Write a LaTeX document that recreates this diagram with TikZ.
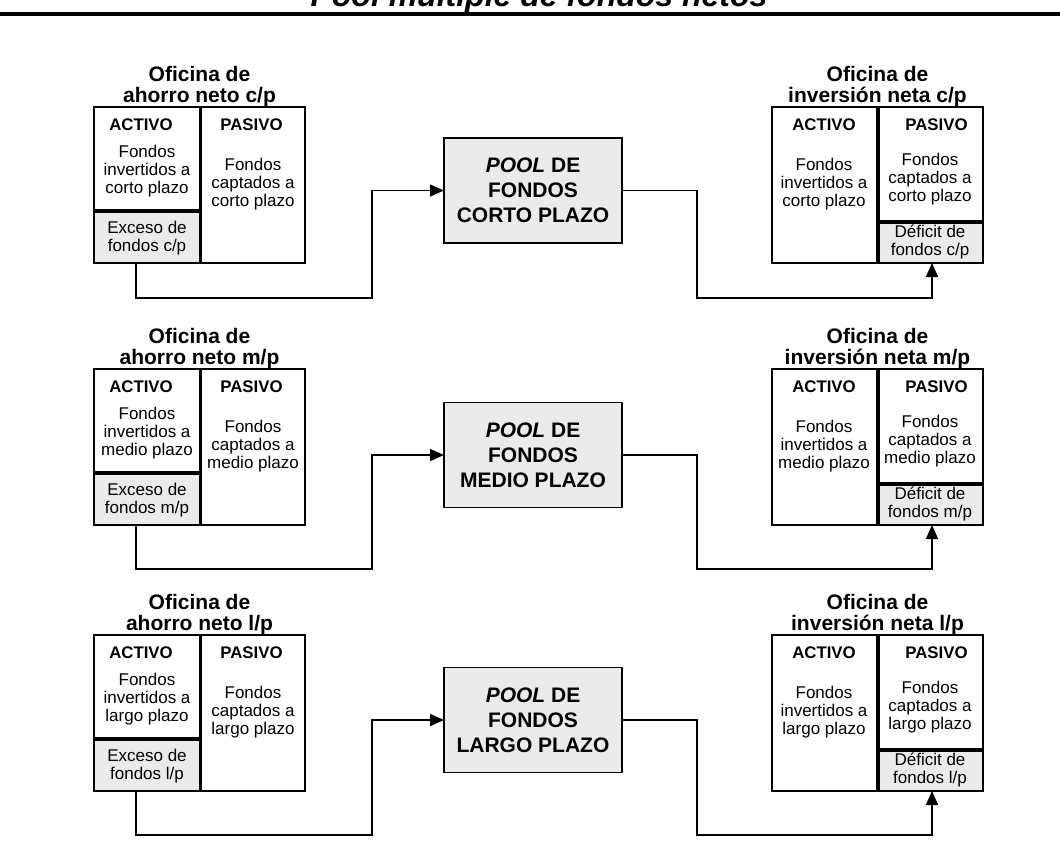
\documentclass[tikz,border=0pt]{standalone}
\usepackage{fontspec}
\setmainfont{Liberation Sans}
\usetikzlibrary{arrows.meta}
\definecolor{shade}{HTML}{EBEBEB}
% multi-line text nodes sit on the baseline of their last line
\tikzset{
  cell/.style={draw=black, line width=1.6pt, outer sep=0pt, inner sep=0pt, anchor=north west},
  greycell/.style={cell, fill=shade},
  figtitle/.style={font=\fontsize{32}{34}\selectfont\bfseries\itshape, anchor=base},
  head/.style={font=\fontsize{21}{21}\selectfont\bfseries, align=center, anchor=base},
  colhead/.style={font=\fontsize{16.8}{18}\selectfont\bfseries, anchor=base},
  body/.style={font=\fontsize{17}{18.3}\selectfont, align=center, anchor=base},
  poolbox/.style={draw=black, line width=1.6pt, fill=shade, outer sep=0pt,
    minimum width=178pt, minimum height=105pt,
    font=\fontsize{21}{25}\selectfont\bfseries, align=center},
  link/.style={line width=1.4pt},
  feed/.style={link, -{Triangle[length=14pt,width=12pt]}},
}
\begin{document}
\begin{tikzpicture}[x=1pt, y=-1pt]
\useasboundingbox (0,0) rectangle (1060,855);
\clip (0,0) rectangle (1060,855);

% heading and rule
\node[figtitle] (title) at (539,6) {Pool múltiple de fondos netos};
\fill (0,12) rectangle (1060,16);

% one row per term: savings office, pool, investment office
\foreach \r/\T/\B/\Pc/\ab/\full/\FULL in {
  1/107/298/190.5/c/corto/CORTO,
  2/369/569/455/m/medio/MEDIO,
  3/635/835/720/l/largo/LARGO}{
  % savings office
  \node[head] (st\r) at (199.5,\T-5) {Oficina de\\ahorro neto \ab/p};
  \node[cell, minimum width=106pt, minimum height=103pt] (sa\r) at (94,\T) {};
  \node[greycell, minimum width=106pt, minimum height=51pt] (sx\r) at (94,\T+105) {};
  \node[cell, minimum width=103.5pt, minimum height=156pt] (sp\r) at (201.5,\T) {};
  \node[colhead] (sah\r) at (141,\T+23) {ACTIVO};
  \node[body] (sab\r) at (147,\T+86.6) {Fondos\\invertidos a\\\full\ plazo};
  \node[colhead] (sph\r) at (251.5,\T+23) {PASIVO};
  \node[body] (spb\r) at (253,\T+99.6) {Fondos\\captados a\\\full\ plazo};
  \node[body] (sxb\r) at (147,\T+144.3) {Exceso de\\fondos \ab/p};

  % pool
  \node[poolbox] (pool\r) at (533,\Pc) {\textit{POOL} DE\\FONDOS\\\FULL\ PLAZO};

  % investment office
  \node[head] (it\r) at (877.5,\T-5) {Oficina de\\inversión neta \ab/p};
  \node[cell, minimum width=105pt, minimum height=156pt] (ia\r) at (772,\T) {};
  \node[cell, minimum width=104pt, minimum height=114pt] (ip\r) at (879,\T) {};
  \node[greycell, minimum width=104pt, minimum height=40pt] (id\r) at (879,\T+116) {};
  \node[colhead] (iah\r) at (824,\T+23) {ACTIVO};
  \node[body] (iab\r) at (824,\T+99.6) {Fondos\\invertidos a\\\full\ plazo};
  \node[colhead] (iph\r) at (936.5,\T+23) {PASIVO};
  \node[body] (ipb\r) at (930,\T+94.6) {Fondos\\captados a\\\full\ plazo};
  \node[body] (idb\r) at (930,\T+148.3) {Déficit de\\fondos \ab/p};

  % flows: excess into the pool, pool out to the deficit
  \draw[feed] ([xshift=-11pt]sx\r.south) |- (372,\B) |- (pool\r.west);
  \draw[feed] (pool\r.east) -| (697,\B) -| ([xshift=1pt]id\r.south);
}
\end{tikzpicture}
\end{document}
